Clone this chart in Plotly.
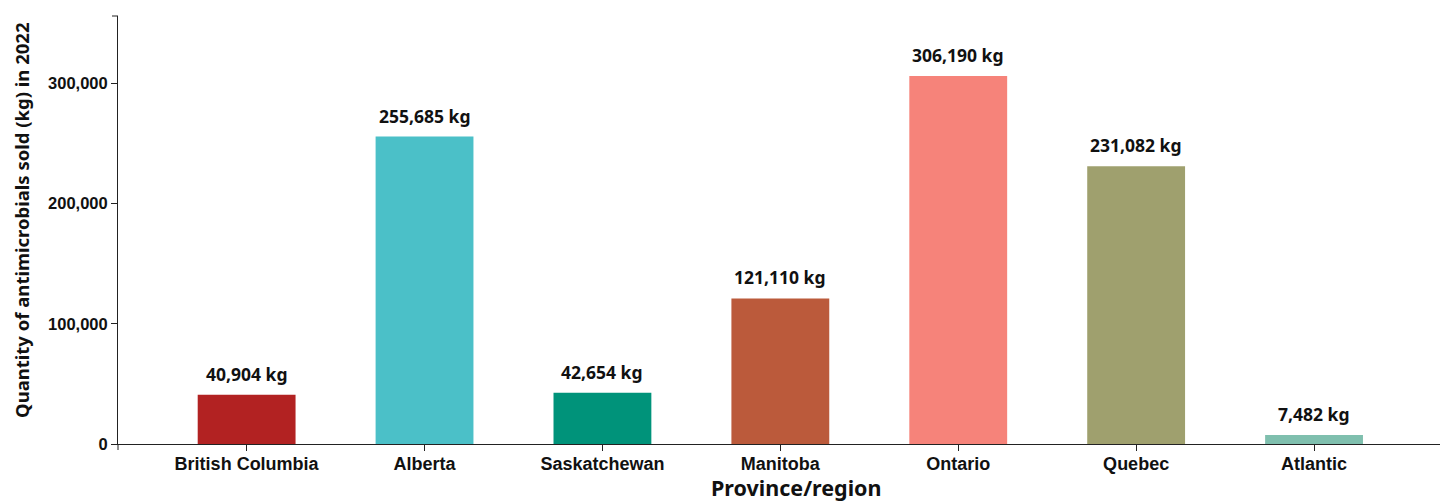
import plotly.graph_objects as go

# Antimicrobial sales by province/region, 2022 (kg)
regions = ["British Columbia", "Alberta", "Saskatchewan", "Manitoba",
           "Ontario", "Quebec", "Atlantic"]
quantity_kg = [40904, 255685, 42654, 121110, 306190, 231082, 7482]
bar_colors = ["#b22222", "#4bc0c8", "#00937a", "#bb5a3b",
              "#f6837a", "#9fa06e", "#7fbfae"]
y_tick_values = [0, 100000, 200000, 300000]
y_tick_labels = ["0", "100,000", "200,000", "300,000"]

AXIS_COLOR = "#222222"
LABEL_FONT = "Noto Sans, Open Sans, sans-serif"
TICK_FONT = "Liberation Sans, Arial, sans-serif"

fig = go.Figure(
    go.Bar(
        x=regions,
        y=quantity_kg,
        marker=dict(color=bar_colors, line=dict(width=0)),
        width=0.55,
        hovertemplate="%{x}: %{y:,} kg<extra></extra>",
    )
)

# value labels above each bar
for name, val in zip(regions, quantity_kg):
    fig.add_annotation(
        x=name, y=val, xref="x", yref="y",
        text=f"{val:,} kg", showarrow=False,
        yanchor="bottom", yshift=7,
        font=dict(family=LABEL_FONT, size=17.5, color="#111111", weight="bold"),
    )

# axis titles
fig.add_annotation(
    x=0.5136, y=-0.102, xref="paper", yref="paper",
    text="Province/region", showarrow=False,
    xanchor="center", yanchor="middle",
    font=dict(family=LABEL_FONT, size=21.5, color="#111111", weight="bold"),
)
fig.add_annotation(
    x=-0.0735, y=0.523, xref="paper", yref="paper",
    text="Quantity of antimicrobials sold (kg) in 2022", showarrow=False,
    textangle=-90, xanchor="center", yanchor="middle",
    font=dict(family=LABEL_FONT, size=18.5, color="#111111", weight="bold"),
)

# outer ticks at the ends of the axis lines
fig.add_shape(type="line", xref="paper", yref="paper",
              xsizemode="pixel", xanchor=0, x0=-6, x1=0, y0=1, y1=1,
              line=dict(color=AXIS_COLOR, width=1))
fig.add_shape(type="line", xref="paper", yref="paper",
              ysizemode="pixel", yanchor=0, y0=0, y1=-6, x0=0, x1=0,
              line=dict(color=AXIS_COLOR, width=1))

fig.update_layout(
    width=1442, height=502,
    margin=dict(l=118, r=2, t=16, b=58),
    paper_bgcolor="white", plot_bgcolor="white",
    showlegend=False,
    bargap=0.45,
    xaxis=dict(
        type="category",
        range=[-0.723, 6.708],
        showline=True, linecolor=AXIS_COLOR, linewidth=1,
        ticks="outside", ticklen=6, tickcolor=AXIS_COLOR,
        ticklabelstandoff=-3,
        showgrid=False, zeroline=False,
        tickfont=dict(family=TICK_FONT, size=18, color="#111111", weight="bold"),
    ),
    yaxis=dict(
        range=[0, 356000],
        tickvals=y_tick_values, ticktext=y_tick_labels,
        showline=True, linecolor=AXIS_COLOR, linewidth=1,
        ticks="outside", ticklen=6, tickcolor=AXIS_COLOR,
        showgrid=False, zeroline=False,
        tickfont=dict(family=TICK_FONT, size=16.5, color="#111111", weight="bold"),
    ),
)

fig.write_html("out.html")
